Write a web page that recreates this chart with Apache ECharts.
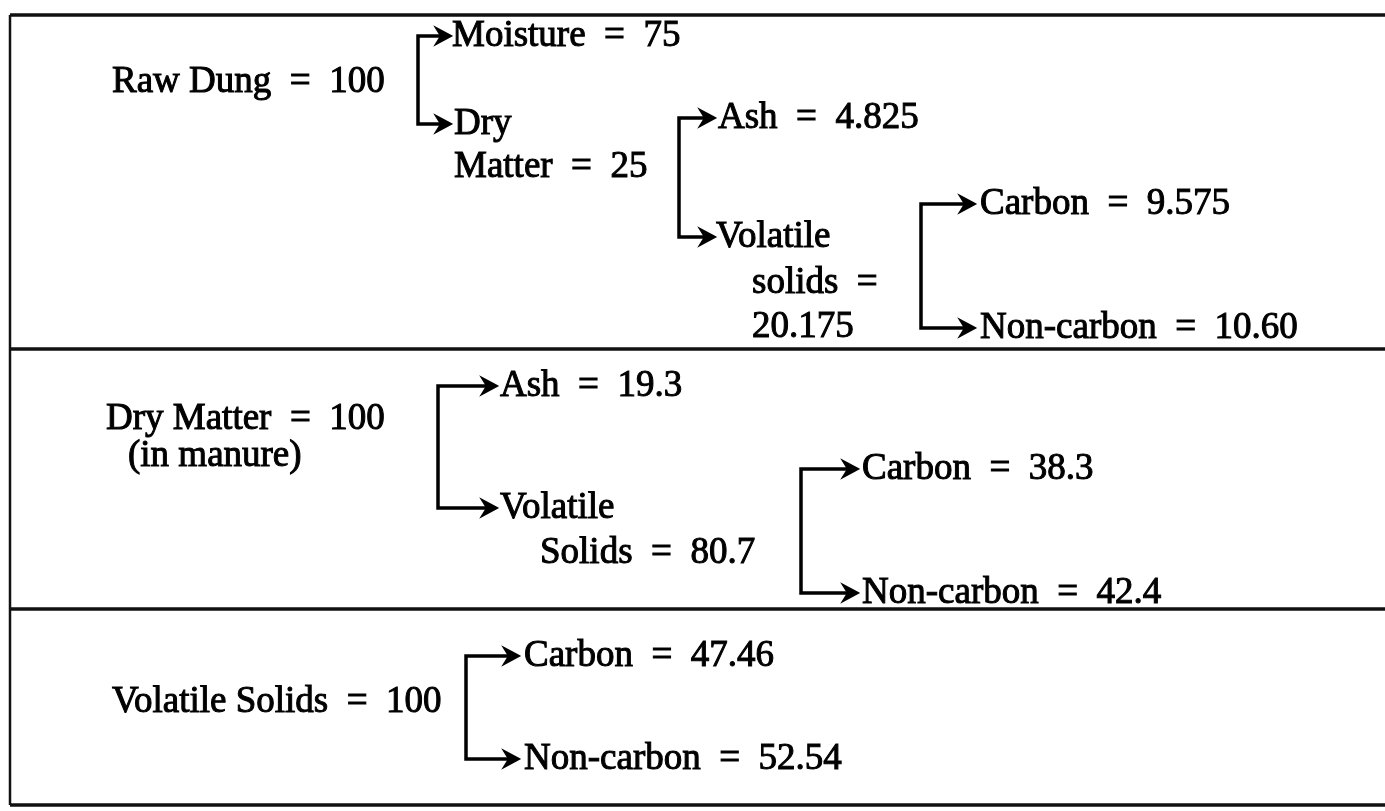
<!DOCTYPE html>
<html>
<head>
<meta charset="utf-8">
<title>Composition of dung</title>
<script src="https://cdn.jsdelivr.net/npm/echarts@6/dist/echarts.min.js"></script>
<style>
  html, body { margin: 0; padding: 0; background: #fff; }
  #chart { width: 1385px; height: 811px; }
</style>
</head>
<body>
<div id="chart"></div>
<script>
// values
const rawDungNames = ['Raw Dung', 'Moisture', 'Dry Matter', 'Ash', 'Volatile solids', 'Carbon', 'Non-carbon'];
const rawDungValues = ['100', '75', '25', '4.825', '20.175', '9.575', '10.60'];
const dryMatterNames = ['Dry Matter', 'Ash', 'Volatile Solids', 'Carbon', 'Non-carbon'];
const dryMatterValues = ['100', '19.3', '80.7', '38.3', '42.4'];
const dryMatterNote = '(in manure)';
const volSolidsNames = ['Volatile Solids', 'Carbon', 'Non-carbon'];
const volSolidsValues = ['100', '47.46', '52.54'];

// page layout (pixel coords, y down) - one [x, y] per text line
const rawDungPos = [
  [[112, 82]],
  [[452, 36]],
  [[454, 124], [454, 167]],
  [[718, 118]],
  [[716, 237], [752, 283], [752, 327]],
  [[980, 204]],
  [[980, 328]]
];
const dryMatterPos = [
  [[106, 419]],
  [[500, 386]],
  [[500, 508], [540, 553]],
  [[862, 469]],
  [[862, 593]]
];
const notePos = [128, 456];
const volSolidsPos = [
  [[112, 702]],
  [[524, 656]],
  [[524, 759]]
];
// brackets: x of the vertical bar, top y, bottom y, x of arrow tip
const brackets = [
  [418, 36, 124, 451],
  [679, 118, 237, 715],
  [921, 204, 328, 975],
  [438, 386, 508, 497],
  [801, 469, 593, 858],
  [466, 656, 759, 519]
];
const ruleY = [15, 349, 609, 805];
const ruleX = 10;

const EQ = '  =  ';
function wrap(name, value, n) {
  if (n === 1) return [name + EQ + value];
  let sp = name.indexOf(' ');
  let first = name.slice(0, sp), rest = name.slice(sp + 1);
  if (n === 2) return [first, rest + EQ + value];
  return [first, rest + '  =', value];
}

let textData = [], textStr = [];
function addBlock(names, values, pos) {
  names.forEach((nm, i) => {
    let lines = wrap(nm, values[i], pos[i].length);
    lines.forEach((ln, j) => {
      textData.push(pos[i][j]);
      textStr.push(ln);
    });
  });
}
addBlock(rawDungNames, rawDungValues, rawDungPos);
addBlock(dryMatterNames, dryMatterValues, dryMatterPos);
addBlock(volSolidsNames, volSolidsValues, volSolidsPos);
textData.push(notePos);
textStr.push(dryMatterNote);

let ruleData = ruleY.map(y => [ruleX, y, 1385, y]);
ruleData.push([ruleX, ruleY[0], ruleX, ruleY[ruleY.length - 1]]);

let myChart = echarts.init(document.getElementById('chart'));
let option = {
  animation: false,
  grid: { left: 0, right: 0, top: 0, bottom: 0 },
  xAxis: { type: 'value', min: 0, max: 1385, show: false },
  yAxis: { type: 'value', min: 0, max: 811, inverse: true, show: false },
  series: [
    {
      type: 'custom',
      clip: false,
      data: ruleData,
      renderItem: function (params, api) {
        let a = api.coord([api.value(0), api.value(1)]);
        let b = api.coord([api.value(2), api.value(3)]);
        let vertical = a[0] === b[0];
        return {
          type: 'line',
          shape: { x1: a[0], y1: a[1], x2: b[0], y2: b[1] },
          style: { stroke: '#111', lineWidth: vertical ? 2.5 : 3.5 }
        };
      }
    },
    {
      type: 'custom',
      clip: false,
      data: brackets,
      renderItem: function (params, api) {
        let x = api.value(0), y1 = api.value(1), y2 = api.value(2), tip = api.value(3);
        let a = api.coord([x, y1]), b = api.coord([x, y2]);
        let t1 = api.coord([tip, y1]), t2 = api.coord([tip, y2]);
        function head(t) {
          return {
            type: 'polygon',
            shape: { points: [[t[0], t[1]], [t[0] - 15, t[1] - 8], [t[0] - 10, t[1]], [t[0] - 15, t[1] + 8]] },
            style: { fill: '#000', stroke: '#000', lineWidth: 2, lineJoin: 'miter' }
          };
        }
        return {
          type: 'group',
          children: [
            {
              type: 'polyline',
              shape: { points: [[t1[0] - 10, a[1]], a, b, [t2[0] - 10, b[1]]] },
              style: { stroke: '#000', lineWidth: 3.5, fill: null, lineJoin: 'miter' }
            },
            head(t1),
            head(t2)
          ]
        };
      }
    },
    {
      type: 'custom',
      clip: false,
      data: textData,
      renderItem: function (params, api) {
        let p = api.coord([api.value(0), api.value(1)]);
        return {
          type: 'text',
          x: p[0],
          y: p[1],
          style: {
            text: textStr[params.dataIndex],
            font: '37px "Liberation Serif", "Times New Roman", serif',
            fill: '#000',
            stroke: '#000',
            lineWidth: 1,
            align: 'left',
            verticalAlign: 'middle'
          }
        };
      }
    }
  ]
};
myChart.setOption(option);
window.onresize = () => { myChart.resize(); };
</script>
</body>
</html>
